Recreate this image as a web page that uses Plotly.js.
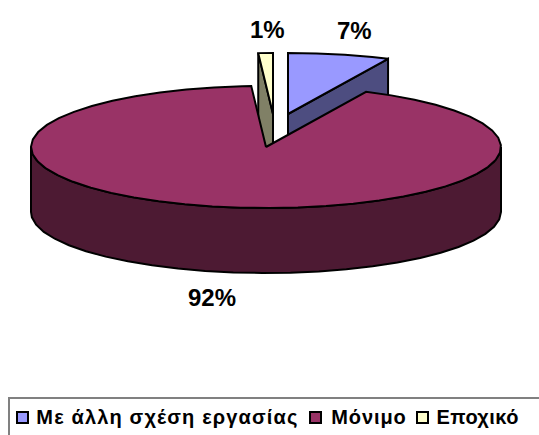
<!DOCTYPE html>
<html><head><meta charset="utf-8">
<script src="https://cdn.plot.ly/plotly-3.0.1.min.js"></script>
<style>html,body{margin:0;padding:0;background:#fff;overflow:hidden}
.annotation[data-index="3"] text{letter-spacing:1.15px}
.annotation[data-index="4"] text{letter-spacing:0.9px}
.annotation[data-index="5"] text{letter-spacing:0.45px}
</style>
</head><body><div id="chart" style="width:539px;height:435px"></div>
<script>
const categories = ["Με άλλη σχέση εργασίας", "Μόνιμο", "Εποχικό"];
const shares = [7, 92, 1];
const shareLabels = ["7%", "92%", "1%"];
const topColors = ["#9999ff", "#993366", "#ffffcc"];
const wallColors = ["#4d4d80", "#4d1a33", "#808066"];

// pie geometry in pixel-like axis units
const cx = 266, cy = 147, rx = 235, ry = 61, depth = 65, step = 7;
const centres = [[288, 114], [266, 147], [273, 114]];
const labelPos = [[354, 30], [212, 297], [267, 29]];
const labelFont = 'Liberation Sans, Arial, sans-serif';
const legendBox = [9, 398];
const legendSwatches = [17, 310, 417];
const legendTexts = [47, 332, 436];
const legendY = 417;

const total = shares.reduce((a, b) => a + b, 0);
let acc = 0;
const spans = shares.map(s => { const a = acc / total * 360; acc += s; return [a, acc / total * 360]; });
const pt = (c, t, dz) => [c[0] + rx * Math.sin(t * Math.PI / 180), c[1] - ry * Math.cos(t * Math.PI / 180) + (dz || 0)];
function arc(c, a, b, dz) {
  const out = [];
  for (let t = a; t < b; t += step) out.push(pt(c, t, dz));
  out.push(pt(c, b, dz));
  return out;
}
function poly(points, fill) {
  const closed = points.concat([points[0]]);
  return { type: 'scatter', mode: 'lines', x: closed.map(p => p[0]), y: closed.map(p => p[1]),
    fill: 'toself', fillcolor: fill, line: { color: '#000', width: 2, shape: 'linear' },
    hoverinfo: 'skip', showlegend: false };
}
const traces = [];
// exploded yellow slice: visible cut face, then top
{
  const c = centres[2], s = spans[2], e = pt(c, s[0]);
  traces.push(poly([e, c, [c[0], c[1] + depth], [e[0], e[1] + depth]], wallColors[2]));
  traces.push(poly([c].concat(arc(c, s[0], s[1])), topColors[2]));
}
// exploded blue slice: cut face, then top
{
  const c = centres[0], s = spans[0], e = pt(c, s[1]);
  traces.push(poly([c, e, [e[0], e[1] + depth], [c[0], c[1] + depth]], wallColors[0]));
  traces.push(poly([c].concat(arc(c, s[0], s[1])), topColors[0]));
}
// main slice: outer wall, then top
{
  const c = centres[1], s = spans[1];
  traces.push(poly(arc(c, 90, 270).concat(arc(c, 90, 270, depth).reverse()), wallColors[1]));
  traces.push(poly([c].concat(arc(c, s[0], s[1])), topColors[1]));
}

const annotations = shareLabels.map((t, i) => ({
  text: t, x: labelPos[i][0], y: labelPos[i][1], xref: 'x', yref: 'y', showarrow: false,
  font: { family: labelFont, size: 24, color: '#000', weight: 700 }
})).concat(categories.map((t, i) => ({
  text: t, x: legendTexts[i], y: legendY, xref: 'x', yref: 'y', showarrow: false, xanchor: 'left',
  font: { family: labelFont, size: 20, color: '#000', weight: 700 }
})));
const shapes = [{ type: 'rect', xref: 'x', yref: 'y', x0: legendBox[0], y0: legendBox[1], x1: 600, y1: 500,
  line: { color: '#808080', width: 2 }, fillcolor: '#fff', layer: 'below' }]
  .concat(legendSwatches.map((x, i) => ({ type: 'rect', xref: 'x', yref: 'y', x0: x, x1: x + 11, y0: legendY - 5, y1: legendY + 6,
    line: { color: '#000', width: 2 }, fillcolor: topColors[i] })));

Plotly.newPlot('chart', traces, {
  width: 539, height: 435, margin: { l: 0, r: 0, t: 0, b: 0 }, paper_bgcolor: '#fff', plot_bgcolor: '#fff',
  xaxis: { range: [0, 539], visible: false, fixedrange: true },
  yaxis: { range: [435, 0], visible: false, fixedrange: true },
  showlegend: false, annotations, shapes
}, { displayModeBar: false, staticPlot: true });
</script></body></html>
